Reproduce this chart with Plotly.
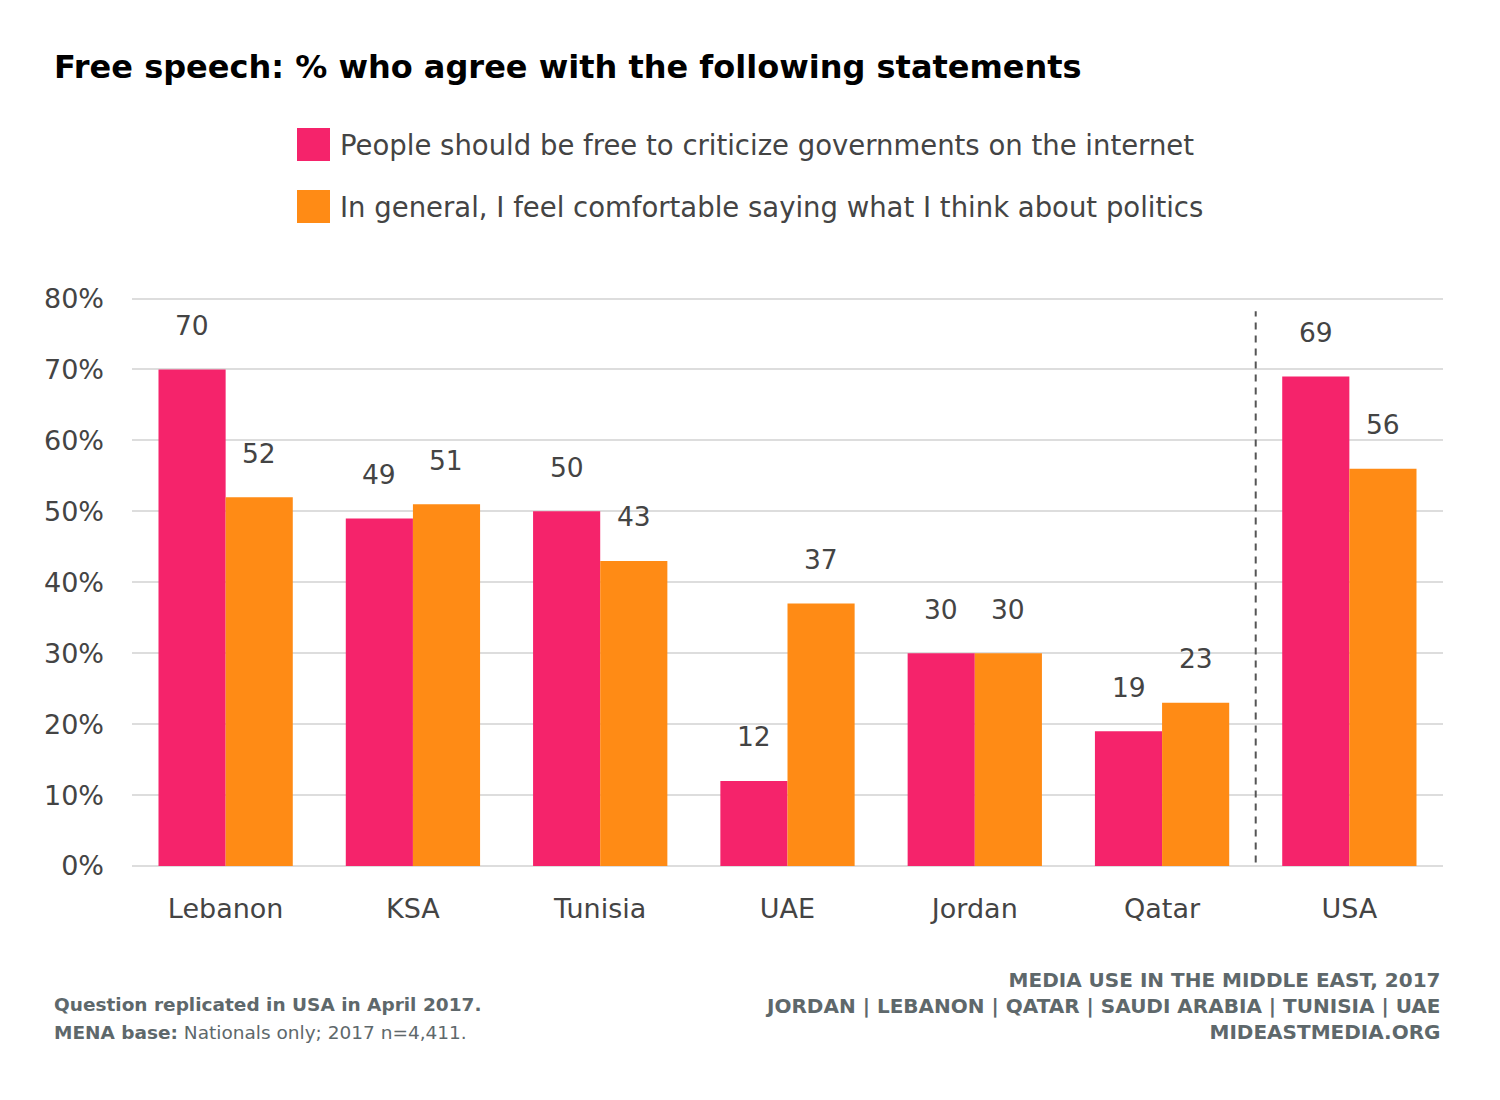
import plotly.graph_objects as go

categories = ["Lebanon", "KSA", "Tunisia", "UAE", "Jordan", "Qatar", "USA"]
series_names = [
    "People should be free to criticize governments on the internet",
    "In general, I feel comfortable saying what I think about politics",
]
criticize = [70, 49, 50, 12, 30, 19, 69]
comfortable = [52, 51, 43, 37, 30, 23, 56]
y_ticks = [0, 10, 20, 30, 40, 50, 60, 70, 80]
y_tick_labels = [f"{v}%" for v in y_ticks]

PINK = "#F5236B"
ORANGE = "#FF8B15"
FONT = "DejaVu Sans"
TXT = "#444444"

OFF = 8
W, H = 1500 - OFF, 1100 - OFF
YMAX = 80.5
PX_PER_UNIT = (866 - 299) / 80.0
B = (1100 - 866)
ph = YMAX * PX_PER_UNIT
T = H - B - ph
L = 132 - OFF
R = W - (1443 - OFF)
pw = W - L - R


def px(x):
    return (x - OFF - L) / pw


def py(y):
    return (H - B - (y - OFF)) / ph


fig = go.Figure()
fig.add_trace(go.Bar(x=categories, y=criticize, name=series_names[0],
                     marker=dict(color=PINK, line=dict(width=0)), showlegend=False))
fig.add_trace(go.Bar(x=categories, y=comfortable, name=series_names[1],
                     marker=dict(color=ORANGE, line=dict(width=0)), showlegend=False))

annotations = []
for vals, xs in ((criticize, -33.5), (comfortable, 33.5)):
    for c, v in zip(categories, vals):
        annotations.append(dict(x=c, y=v, xref="x", yref="y", text=str(v),
                                showarrow=False, xshift=xs, yshift=44,
                                xanchor="center", yanchor="middle",
                                font=dict(family=FONT, size=26.5, color=TXT)))

annotations.append(dict(x=px(52), y=py(68), xref="paper", yref="paper",
                        text="<b>Free speech: % who agree with the following statements</b>",
                        showarrow=False, xanchor="left", yanchor="middle",
                        font=dict(family=FONT, size=32, color="#000000")))

shapes = []
legend_colors = [PINK, ORANGE]
legend_y = [145, 207]
for name, col, yy in zip(series_names, legend_colors, legend_y):
    shapes.append(dict(type="rect", xref="paper", yref="paper",
                       x0=px(297), x1=px(330), y0=py(yy + 16.5), y1=py(yy - 16.5),
                       fillcolor=col, line=dict(width=0)))
    annotations.append(dict(x=px(338), y=py(yy + 1), xref="paper", yref="paper", text=name,
                            showarrow=False, xanchor="left", yanchor="middle",
                            font=dict(family=FONT, size=27.5, color=TXT)))

shapes.append(dict(type="line", xref="x", yref="y", x0=5.5, x1=5.5, y0=0.5, y1=78.2,
                   line=dict(color="#555555", width=2, dash="7px,6px")))

FOOT = "#5E686B"
left_footer = [
    "<b>Question replicated in USA in April 2017.</b>",
    "<b>MENA base:</b> Nationals only; 2017 n=4,411.",
]
for txt, yy in zip(left_footer, [1004, 1032]):
    annotations.append(dict(x=px(52), y=py(yy), xref="paper", yref="paper", text=txt,
                            showarrow=False, xanchor="left", yanchor="middle", align="left",
                            font=dict(family=FONT, size=18.5, color=FOOT)))
annotations.append(dict(x=px(1443), y=py(1006), xref="paper", yref="paper",
                        text="<b>MEDIA USE IN THE MIDDLE EAST, 2017<br>JORDAN | LEBANON | QATAR | SAUDI ARABIA | TUNISIA | UAE<br>MIDEASTMEDIA.ORG</b>",
                        showarrow=False, xanchor="right", yanchor="middle", align="right",
                        font=dict(family=FONT, size=20, color=FOOT)))

fig.update_layout(
    width=W, height=H,
    margin=dict(l=L, r=R, t=T, b=B, pad=0),
    paper_bgcolor="white", plot_bgcolor="white",
    barmode="group", bargap=0.283, bargroupgap=0,
    xaxis=dict(range=[-0.5, 6.5], showgrid=False, zeroline=False, showline=False,
               ticks="", tickfont=dict(family=FONT, size=27, color=TXT),
               ticklabelstandoff=24),
    yaxis=dict(range=[0, YMAX], tickvals=y_ticks, ticktext=y_tick_labels,
               showgrid=True, gridcolor="#DDDDDD", gridwidth=2,
               zeroline=True, zerolinecolor="#DDDDDD", zerolinewidth=2,
               showline=False, ticks="",
               tickfont=dict(family=FONT, size=27, color=TXT),
               ticklabelstandoff=27),
    showlegend=False,
    annotations=annotations, shapes=shapes,
)

fig.write_html("out.html")
